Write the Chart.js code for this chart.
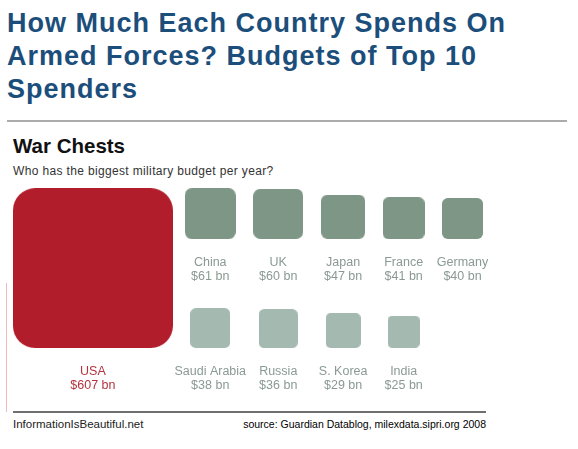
<!DOCTYPE html>
<html>
<head>
<meta charset="utf-8">
<script src="https://cdn.jsdelivr.net/npm/chart.js@4.4.1/dist/chart.umd.min.js"></script>
<style>
  body { margin: 0; width: 578px; height: 449px; background: #fff; position: relative; overflow: hidden;
         font-family: "Liberation Sans", Arial, sans-serif; }
  #title { position: absolute; left: 7px; top: 7px; margin: 0; font-size: 27px; line-height: 33px;
           letter-spacing: 1px; font-weight: bold; color: #1c4e7b; white-space: nowrap; }
  #rule-top { position: absolute; left: 7px; top: 120px; width: 560px; height: 2px; background: #ababab; }
  #head { position: absolute; left: 13px; top: 134px; margin: 0; font-size: 20.5px; font-weight: bold; color: #111; }
  #sub { position: absolute; left: 13px; top: 164px; font-size: 12px; letter-spacing: 0.35px; color: #333; white-space: nowrap; }
  #pink { position: absolute; left: 6px; top: 283px; width: 1px; height: 129px; background: #f2b9bd; }
  #rule-bottom { position: absolute; left: 13px; top: 411px; width: 473px; height: 1.5px; background: #6f6f6f; }
  #credit { position: absolute; left: 13px; top: 418px; font-size: 11.5px; color: #222; white-space: nowrap; }
  #source { position: absolute; right: 92px; top: 418px; font-size: 10.5px; color: #000; white-space: nowrap; }
  #chart { position: absolute; left: 0; top: 180px; }
</style>
</head>
<body>
<h1 id="title">How Much Each Country Spends On<br>Armed Forces? Budgets of Top 10<br>Spenders</h1>
<div id="rule-top"></div>
<h2 id="head">War Chests</h2>
<div id="sub">Who has the biggest military budget per year?</div>
<div id="pink"></div>
<canvas id="chart" width="500" height="230"></canvas>
<div id="rule-bottom"></div>
<div id="credit">InformationIsBeautiful.net</div>
<div id="source">source: Guardian Datablog, milexdata.sipri.org 2008</div>

<script>
// military budget, $ billion per year (2008)
var countries = ['USA', 'China', 'UK', 'Japan', 'France', 'Germany', 'Saudi Arabia', 'Russia', 'S. Korea', 'India'];
var spend = [607, 61, 60, 47, 41, 40, 38, 36, 29, 25];

// area of each square is proportional to the budget, so its side is sqrt(budget)
var PX_PER_UNIT = 6.49;
var W = 500, H = 230;
var LEFT = 2.0, HERO_GAP = 1.85, GAP = 2.7;
var BASE_LOW = 9.55, BASE_HIGH = 26.35;

var sides = spend.map(Math.sqrt);
var points = [];
var cursor = LEFT;
points[0] = { x: cursor + sides[0] / 2, y: BASE_LOW + sides[0] / 2 };
cursor += sides[0] + HERO_GAP;
for (var i = 1; i <= 5; i++) {
    points[i] = { x: cursor + sides[i] / 2, y: BASE_HIGH + sides[i] / 2 };
    cursor += sides[i] + GAP;
}
for (var j = 6; j < countries.length; j++) {
    points[j] = { x: points[j - 5].x, y: BASE_LOW + sides[j] / 2 };
}

function boxColour(i) {
    if (i === 0) return '#b11d2b';
    return i <= 5 ? '#7e9686' : '#a4b9af';
}
function textColour(i) {
    return i === 0 ? '#b3343f' : '#8a9a93';
}

function sidePx(chart, i) {
    var xs = chart.scales.x;
    return xs.getPixelForValue(sides[i]) - xs.getPixelForValue(0);
}

var cache = {};
function square(s, colour) {
    var size = Math.round(s);
    var key = size + colour;
    if (cache[key]) return cache[key];
    var c = document.createElement('canvas');
    c.width = size;
    c.height = size;
    var g = c.getContext('2d');
    g.fillStyle = colour;
    g.beginPath();
    g.roundRect(0, 0, size, size, size * 0.14);
    g.fill();
    cache[key] = c;
    return c;
}

var labels = {
    id: 'labels',
    afterDatasetsDraw: function(chart) {
        var ctx = chart.ctx;
        var meta = chart.getDatasetMeta(0);
        ctx.save();
        ctx.textAlign = 'center';
        ctx.textBaseline = 'middle';
        ctx.font = '12.5px "Liberation Sans", Arial, sans-serif';
        meta.data.forEach(function(el, i) {
            var bottom = el.y + sidePx(chart, i) / 2;
            ctx.fillStyle = textColour(i);
            ctx.fillText(countries[i], el.x, bottom + 24);
            ctx.fillText('$' + spend[i] + ' bn', el.x, bottom + 38);
        });
        ctx.restore();
    }
};

new Chart(document.getElementById('chart'), {
    type: 'scatter',
    data: {
        labels: countries,
        datasets: [{
            data: points,
            pointStyle: function(c) { return square(sidePx(c.chart, c.dataIndex), boxColour(c.dataIndex)); },
            pointRadius: function(c) { return sidePx(c.chart, c.dataIndex) / 2; }
        }]
    },
    options: {
        responsive: false,
        animation: false,
        events: [],
        layout: { padding: 0 },
        plugins: { legend: { display: false }, tooltip: { enabled: false } },
        scales: {
            x: { type: 'linear', display: false, min: 0, max: W / PX_PER_UNIT },
            y: { type: 'linear', display: false, min: 0, max: H / PX_PER_UNIT }
        }
    },
    plugins: [labels]
});
</script>
</body>
</html>
